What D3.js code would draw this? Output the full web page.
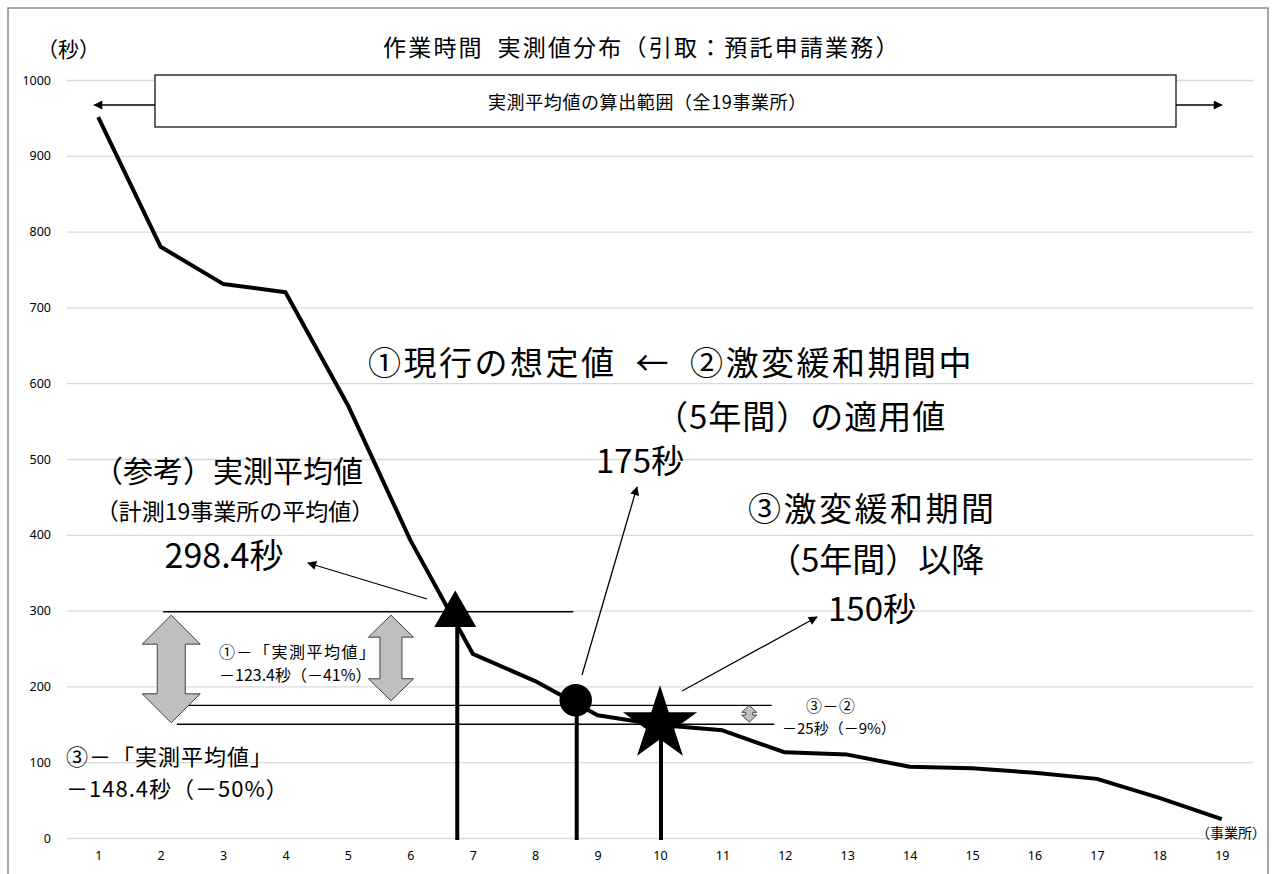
<!DOCTYPE html>
<html>
<head>
<meta charset="utf-8">
<script src="https://cdn.jsdelivr.net/npm/d3@7"></script>
<style>
  body { margin: 0; background: #fff; }
  text { font-family: "Noto Sans CJK JP", "Noto Sans", sans-serif; fill: #000; }
</style>
</head>
<body>
<svg id="chart"></svg>
<script>
// chart size
const width = 1278;
const height = 874;
const marginLeft = 67;
const marginRight = 25;
const marginTop = 80;
const plotBottom = 838;

// data: measured seconds per office, sorted
const offices = d3.range(1, 20);
const seconds = [951, 780, 731, 720, 571, 393, 243, 207, 162, 149, 142, 113, 110, 94, 92, 86, 78, 53, 25];
const yTicks = [0, 100, 200, 300, 400, 500, 600, 700, 800, 900, 1000];

// reference values
const avgValue = 298.4;   // 実測平均値
const value2 = 175;       // ② 激変緩和期間中
const value3 = 150;       // ③ 以降
// where the markers sit on the category axis
const markerPos = [6.72, 8.65, 10.0];

const svg = d3.select("#chart")
  .attr("width", width)
  .attr("height", height);

const x = d3.scaleLinear()
  .domain([0.5, 19.5])
  .range([marginLeft, width - marginRight]);

const y = d3.scaleLinear()
  .domain([0, 1000])
  .range([plotBottom, marginTop]);

// arrowhead marker
svg.append("defs").append("marker")
  .attr("id", "head")
  .attr("viewBox", "0 0 10 10")
  .attr("refX", 9).attr("refY", 5)
  .attr("markerWidth", 10).attr("markerHeight", 9)
  .attr("markerUnits", "userSpaceOnUse")
  .attr("orient", "auto")
  .append("path")
  .attr("d", "M0,0 L10,5 L0,10 z")
  .attr("fill", "#000");

// outer frame
svg.append("rect")
  .attr("x", 8).attr("y", 8)
  .attr("width", 1260).attr("height", 900)
  .attr("fill", "none")
  .attr("stroke", "#8a8a8a")
  .attr("stroke-width", 1.5);

// gridlines + y axis
svg.append("g")
  .attr("transform", `translate(${marginLeft},0)`)
  .call(d3.axisLeft(y).tickValues(yTicks).tickFormat(d3.format("d"))
    .tickSize(-(x.range()[1] - marginLeft)).tickPadding(16))
  .call(g => g.select(".domain").remove())
  .call(g => g.selectAll(".tick line").attr("stroke", "#d9d9d9").attr("stroke-width", 1.3))
  .call(g => g.selectAll(".tick text")
    .attr("fill", "#595959")
    .style("font-family", "'Noto Sans', sans-serif")
    .style("font-size", "12.5px"));

// x axis (category labels only)
svg.append("g")
  .attr("transform", `translate(0,${plotBottom})`)
  .call(d3.axisBottom(x).tickValues(offices).tickSize(0).tickPadding(13).tickFormat(d3.format("d")))
  .call(g => g.select(".domain").remove())
  .call(g => g.selectAll(".tick text")
    .attr("fill", "#595959")
    .style("font-family", "'Noto Sans', sans-serif")
    .style("font-size", "12.5px"));

// annotation text helper
function label(tx, ty, size, str, anchor, spacing) {
  svg.append("text")
    .attr("x", tx).attr("y", ty)
    .attr("text-anchor", anchor || "start")
    .attr("dominant-baseline", "central")
    .style("font-size", size + "px")
    .style("letter-spacing", (spacing || 0) + "px")
    .text(str);
}

// titles
label(383, 46, 23, "作業時間\u2002実測値分布（引取：預託申請業務）", "start", 2.2);
label(37, 48, 21, "（秒）");
label(1266, 832, 14, "（事業所）", "end");

// range box on top
svg.append("rect")
  .attr("x", 155).attr("y", 75)
  .attr("width", 1176 - 155).attr("height", 52)
  .attr("fill", "#fff")
  .attr("stroke", "#000")
  .attr("stroke-width", 1.2);

label(488, 101, 18, "実測平均値の算出範囲（全19事業所）", "start", 0.6);

function arrow(x1, y1, x2, y2, w) {
  svg.append("line")
    .attr("x1", x1).attr("y1", y1)
    .attr("x2", x2).attr("y2", y2)
    .attr("stroke", "#000")
    .attr("stroke-width", w || 1.3)
    .attr("marker-end", "url(#head)");
}

arrow(155, y(967), x(1) - 4, y(967));
arrow(1176, y(967), x(19), y(967));

// reference lines at avg, ②, ③
const refLines = [
  { v: avgValue, from: 2.04, to: 8.61 },
  { v: value2, from: 2.23, to: 11.79 },
  { v: value3, from: 2.26, to: 11.83 }
];
svg.append("g")
  .selectAll("line")
  .data(refLines)
  .join("line")
  .attr("x1", d => x(d.from)).attr("x2", d => x(d.to))
  .attr("y1", d => y(d.v)).attr("y2", d => y(d.v))
  .attr("stroke", "#000")
  .attr("stroke-width", 1.4);

// gray double arrows
function doubleArrow(cx, top, bottom, headW, shaftW, headL) {
  const h = headW / 2, s = shaftW / 2;
  const p = [
    [cx, top], [cx + h, top + headL], [cx + s, top + headL],
    [cx + s, bottom - headL], [cx + h, bottom - headL], [cx, bottom],
    [cx - h, bottom - headL], [cx - s, bottom - headL], [cx - s, top + headL],
    [cx - h, top + headL]
  ];
  svg.append("path")
    .attr("d", d3.line()(p) + "Z")
    .attr("fill", "#bfbfbf")
    .attr("stroke", "#404040")
    .attr("stroke-width", 1);
}
doubleArrow(x(2.17), y(294), y(152), 58, 28, 29);
doubleArrow(x(5.69), y(294), y(181), 45, 22, 22);
doubleArrow(x(11.43), y(175), y(153), 15, 7, 7);

// data line
svg.append("path")
  .datum(seconds)
  .attr("fill", "none")
  .attr("stroke", "#000")
  .attr("stroke-width", 4)
  .attr("stroke-linejoin", "round")
  .attr("d", d3.line().x((d, i) => x(offices[i])).y(d => y(d)));

// drop lines from markers
const markerVals = [avgValue, value2, value3];
svg.append("g")
  .selectAll("line")
  .data(markerPos)
  .join("line")
  .attr("x1", (d, i) => x(d) + (i === 0 ? 2 : 1)).attr("x2", (d, i) => x(d) + (i === 0 ? 2 : 1))
  .attr("y1", (d, i) => y(markerVals[i]))
  .attr("y2", plotBottom + 2)
  .attr("stroke", "#000")
  .attr("stroke-width", 4);

// markers: triangle, circle, star
const shapes = [d3.symbolTriangle, d3.symbolCircle, d3.symbolStar];
const sizes = [764, 830, 1707];
svg.append("g")
  .selectAll("path")
  .data(markerPos)
  .join("path")
  .attr("transform", (d, i) => `translate(${x(d)},${y(markerVals[i]) + (i === 0 ? 3 : i === 1 ? -5 : 0)})`)
  .attr("d", (d, i) => d3.symbol(shapes[i], sizes[i])())
  .attr("fill", "#000");

// annotations
label(228, 469, 30, "（参考）実測平均値", "middle");
label(235, 510, 23, "（計測19事業所の平均値）", "middle");
label(224, 553, 34, "298.4秒", "middle");
arrow(427, 599, 308, 563);

label(368, 361, 33, "①現行の想定値\u2002←\u2002②激変緩和期間中", "start", 2.5);
label(655, 415, 33, "（5年間）の適用値", "start", 1);
label(596, 459, 33, "175秒");
arrow(582, 675, 637, 487);

label(748, 507, 33, "③激変緩和期間", "start", 2.5);
label(768, 558, 33, "（5年間）以降");
label(828, 607, 33, "150秒");
arrow(682, 691, 817, 617);

label(219, 651, 16, "①－「実測平均値」", "start", 1.5);
label(219, 674, 16, "－123.4秒（－41%）");

label(66, 755, 22, "③－「実測平均値」", "start", 1);
label(66, 787, 22, "－148.4秒（－50%）", "start", 1);

label(806, 705, 16, "③－②", "start", 0.5);
label(782, 727, 15, "－25秒（－9%）");
</script>
</body>
</html>
